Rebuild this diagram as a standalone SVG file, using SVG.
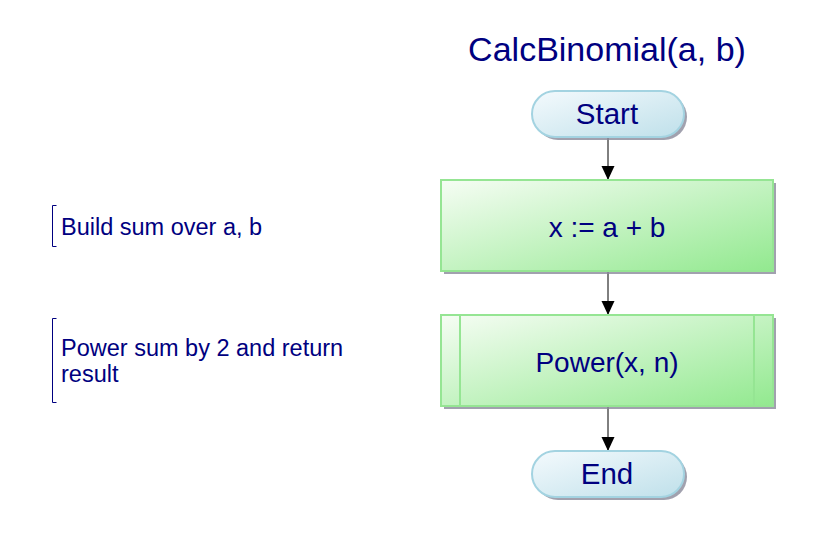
<svg xmlns="http://www.w3.org/2000/svg" width="825" height="540" viewBox="0 0 825 540">
<defs>
<linearGradient id="gT" x1="0" y1="0" x2="1" y2="1">
<stop offset="0" stop-color="#f4fafd"/>
<stop offset="1" stop-color="#bfe0ea"/>
</linearGradient>
<linearGradient id="gP" x1="0" y1="0" x2="1" y2="1">
<stop offset="0" stop-color="#f6fdf4"/>
<stop offset="1" stop-color="#92e98f"/>
</linearGradient>
<marker id="arr" viewBox="0 0 14 14" refX="14" refY="7" markerWidth="14" markerHeight="14" markerUnits="userSpaceOnUse" orient="auto">
<path d="M0,0.5 L14,7 L0,13.5 z" fill="#000"/>
</marker>
</defs>
<style>
.t{font-family:"Liberation Sans",Arial,sans-serif;fill:#000080;}
.term{fill:url(#gT);stroke:#a3d3e1;stroke-width:2;}
.proc{fill:url(#gP);stroke:#95e593;stroke-width:2;}
.sh{fill:#8a8a9a;opacity:0.8;}
.con{stroke:#000;stroke-width:1;fill:none;}
.br{stroke:#000080;stroke-width:1;fill:none;}
</style>
<rect width="825" height="540" fill="#fff"/>
<text class="t" x="607" y="61" font-size="34" text-anchor="middle">CalcBinomial(a, b)</text>
<g id="connectors">
<line class="con" x1="608" y1="138" x2="608" y2="180" marker-end="url(#arr)"/>
<line class="con" x1="608" y1="272" x2="608" y2="315" marker-end="url(#arr)"/>
<line class="con" x1="608" y1="407" x2="608" y2="451" marker-end="url(#arr)"/>
</g>
<g id="start">
<rect class="sh" x="535" y="94" width="152" height="46" rx="23"/>
<rect class="term" x="532" y="91" width="152" height="46" rx="23"/>
<text class="t" x="607" y="124" font-size="29.5" text-anchor="middle">Start</text>
</g>
<g id="sum">
<rect class="sh" x="444" y="183" width="332" height="91"/>
<rect class="proc" x="441" y="180" width="332" height="91"/>
<text class="t" x="607" y="237" font-size="28" text-anchor="middle">x := a + b</text>
</g>
<g id="power">
<rect class="sh" x="444" y="318" width="332" height="91"/>
<rect class="proc" x="441" y="315" width="332" height="91"/>
<line x1="460" y1="315" x2="460" y2="406" stroke="#95e593" stroke-width="2"/>
<line x1="754" y1="315" x2="754" y2="406" stroke="#95e593" stroke-width="2"/>
<text class="t" x="607" y="372" font-size="28" text-anchor="middle">Power(x, n)</text>
</g>
<g id="end">
<rect class="sh" x="535" y="454" width="152" height="46" rx="23"/>
<rect class="term" x="532" y="451" width="152" height="46" rx="23"/>
<text class="t" x="607" y="484" font-size="29.5" text-anchor="middle">End</text>
</g>
<g id="comment1">
<path class="br" d="M56.5,205.5 H52.5 V246.5 H56.5"/>
<text class="t" x="61" y="235" font-size="23.5">Build sum over a, b</text>
</g>
<g id="comment2">
<path class="br" d="M56.5,318.5 H52.5 V402.5 H56.5"/>
<text class="t" x="61" y="356" font-size="23.5">Power sum by 2 and return</text>
<text class="t" x="61" y="382" font-size="23.5">result</text>
</g>
</svg>
